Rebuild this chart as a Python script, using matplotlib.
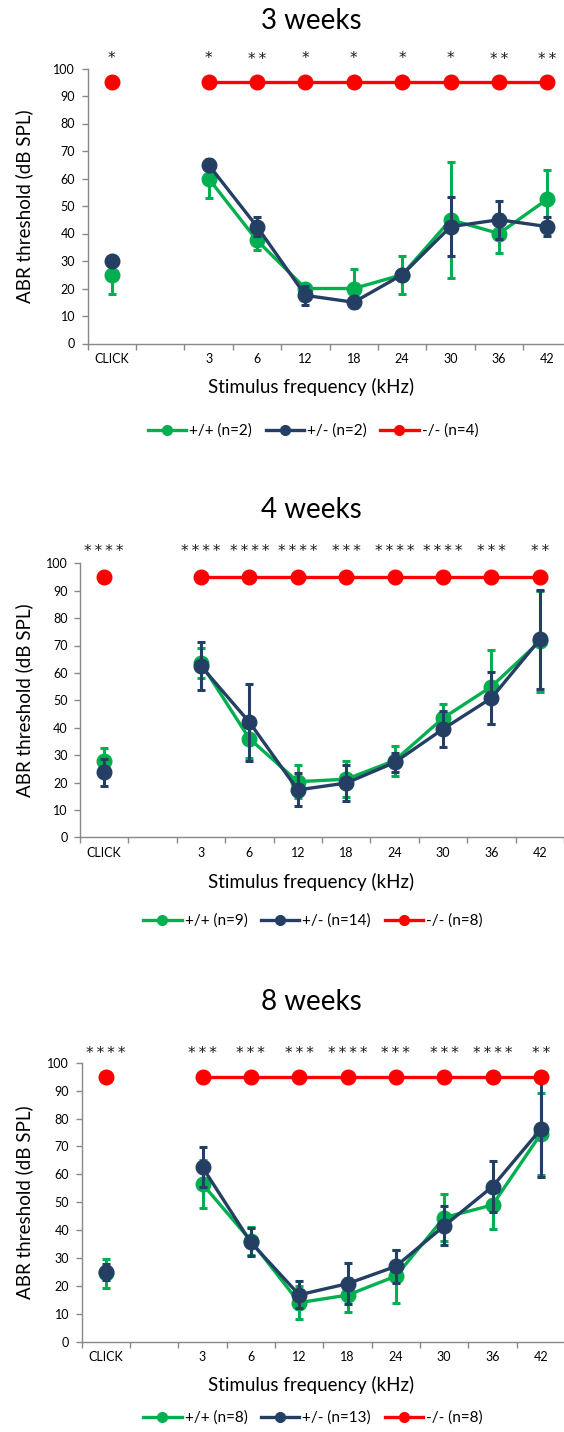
import numpy as np
import matplotlib
matplotlib.use("Agg")
import matplotlib.pyplot as plt
from matplotlib.lines import Line2D

W, H, DPI = 564, 1432, 100

# ---------------- data ----------------
categories = ["CLICK", "", "3", "6", "12", "18", "24", "30", "36", "42"]
# index of each measured point within categories (CLICK, then 3..42 kHz)
point_idx = [0, 2, 3, 4, 5, 6, 7, 8, 9]

titles = ["3 weeks", "4 weeks", "8 weeks"]
legend_wt = ["+/+ (n=2)", "+/+ (n=9)", "+/+ (n=8)"]
legend_het = ["+/- (n=2)", "+/- (n=14)", "+/- (n=13)"]
legend_ko = ["-/- (n=4)", "-/- (n=8)", "-/- (n=8)"]

# 3 weeks
wt_3w = [25, 60, 37.5, 20, 20, 25, 45, 40, 52.5]
wt_3w_err = [7, 7, 3.5, 0, 7, 7, 21, 7, 10.5]
het_3w = [30, 65, 42.5, 17.5, 15, 25, 42.5, 45, 42.5]
het_3w_err = [0, 0, 3.5, 3.5, 0, 0, 10.6, 7, 3.5]
ko_3w = [95, 95, 95, 95, 95, 95, 95, 95, 95]
stars_3w = ["*", "*", "**", "*", "*", "*", "*", "**", "**"]

# 4 weeks
wt_4w = [28, 63.5, 36, 20.3, 21.2, 28, 43.5, 55, 71.5]
wt_4w_err = [4.7, 5.5, 7, 6, 6.5, 5.5, 5, 13.5, 18.5]
het_4w = [23.7, 62.5, 42, 17.3, 19.8, 27.3, 39.5, 50.8, 72.2]
het_4w_err = [5, 8.8, 14, 6, 6.5, 3.6, 6.7, 9.5, 18]
ko_4w = [95, 95, 95, 95, 95, 95, 95, 95, 95]
stars_4w = ["****", "****", "****", "****", "***", "****", "****", "***", "**"]

# 8 weeks
wt_8w = [24.5, 56.5, 36.2, 14, 16.7, 23.5, 44.5, 49, 74.5]
wt_8w_err = [5.3, 8.7, 5, 6, 6, 9.5, 8.3, 8.6, 14.8]
het_8w = [25, 62.5, 35.6, 16.8, 20.8, 27, 41.5, 55.6, 76.2]
het_8w_err = [2.8, 7.2, 5, 4.8, 7.4, 6, 7, 9, 17]
ko_8w = [95, 95, 95, 95, 95, 95, 95, 95, 95]
stars_8w = ["****", "***", "***", "***", "****", "***", "***", "****", "**"]

yticks = [0, 10, 20, 30, 40, 50, 60, 70, 80, 90, 100]

panels = [
    (wt_3w, wt_3w_err, het_3w, het_3w_err, ko_3w, stars_3w),
    (wt_4w, wt_4w_err, het_4w, het_4w_err, ko_4w, stars_4w),
    (wt_8w, wt_8w_err, het_8w, het_8w_err, ko_8w, stars_8w),
]

# ---------------- style / layout ----------------
GREEN = "#00B050"
BLUE = "#243F63"
RED = "#FF0000"
GRAY = "#888888"
FONT = "Lato"

# axes boxes in pixels: left, top(y=100), right, bottom(y=0)
boxes = [(87.6, 68.5, 571.6, 343.5),
         (80.0, 563.3, 564.0, 837.3),
         (81.7, 1062.7, 565.0, 1341.7)]
title_y = [21, 510, 1002]
star_y = [59, 551, 1053]
xlabel_y = [387, 882, 1385]
legend_y = [431, 921, 1418]
ylabel_x = 24
center_x = 311

fig = plt.figure(figsize=(W / DPI, H / DPI), dpi=DPI)
fig.patch.set_facecolor("white")

x_all = np.arange(len(categories)) + 0.5

for p, (wt, wte, het, hete, ko, stars) in enumerate(panels):
    l, t, r, b = boxes[p]
    ax = fig.add_axes([l / W, 1 - b / H, (r - l) / W, (b - t) / H])
    ax.set_xlim(0, len(categories))
    ax.set_ylim(0, 100)
    for s in ["top", "right"]:
        ax.spines[s].set_visible(False)
    for s in ["left", "bottom"]:
        ax.spines[s].set_color(GRAY)
        ax.spines[s].set_linewidth(1.0)
    ax.set_yticks(yticks)
    ax.set_yticklabels([str(v) for v in yticks], fontsize=9, family=FONT)
    ax.set_xticks(np.arange(len(categories) + 1))
    ax.set_xticklabels([])
    ax.set_xticks(x_all, minor=True)
    ax.set_xticklabels(categories, minor=True, fontsize=9, family=FONT)
    ax.tick_params(axis="both", which="major", direction="out", length=4,
                   width=1.0, color=GRAY, pad=5)
    ax.tick_params(axis="x", which="minor", length=0, pad=7)
    ax.set_facecolor("none")

    xs = x_all[point_idx]
    ekw = dict(elinewidth=2.2, capsize=3, capthick=2.2)
    for vals, errs, col, z in [(wt, wte, GREEN, 3), (het, hete, BLUE, 4)]:
        # CLICK point (not joined)
        ax.errorbar(xs[:1], vals[:1], yerr=errs[:1], fmt="o", color=col,
                    ms=10.5, zorder=z, clip_on=False, **ekw)
        ax.errorbar(xs[1:], vals[1:], yerr=errs[1:], fmt="-o", color=col,
                    lw=2.4, ms=10.5, zorder=z, clip_on=False, **ekw)
    ax.plot(xs[:1], ko[:1], "o", color=RED, ms=10.5, zorder=6, clip_on=False)
    ax.plot(xs[1:], ko[1:], "-o", color=RED, lw=2.4, ms=10.5, zorder=6,
            clip_on=False)

    # significance asterisks
    for xi, st in zip(xs, stars):
        xf = (l + xi / len(categories) * (r - l)) / W
        fig.text(xf, 1 - star_y[p] / H, "\u2009".join(st), ha="center",
                 va="center", fontsize=11, family="DejaVu Sans", color="#1a1a1a")

    fig.text(center_x / W, 1 - title_y[p] / H, titles[p], ha="center",
             va="center", fontsize=20, family=FONT)
    fig.text(center_x / W, 1 - xlabel_y[p] / H, "Stimulus frequency (kHz)",
             ha="center", va="center", fontsize=13.5, family=FONT)
    fig.text(ylabel_x / W, 1 - ((t + b) / 2) / H, "ABR threshold (dB SPL)",
             ha="center", va="center", rotation=90, fontsize=13.5, family=FONT)

    handles = [Line2D([], [], color=GREEN, lw=2.4, marker="o", ms=7),
               Line2D([], [], color=BLUE, lw=2.4, marker="o", ms=7),
               Line2D([], [], color=RED, lw=2.4, marker="o", ms=7)]
    fig.legend(handles, [legend_wt[p], legend_het[p], legend_ko[p]],
               loc="center", bbox_to_anchor=(313 / W, 1 - legend_y[p] / H),
               ncol=3, frameon=False, prop={"family": FONT, "size": 11},
               handlelength=2.5, handletextpad=0.2, columnspacing=0.9,
               borderpad=0, borderaxespad=0)

fig.savefig("out.png", dpi=DPI, facecolor="white")
